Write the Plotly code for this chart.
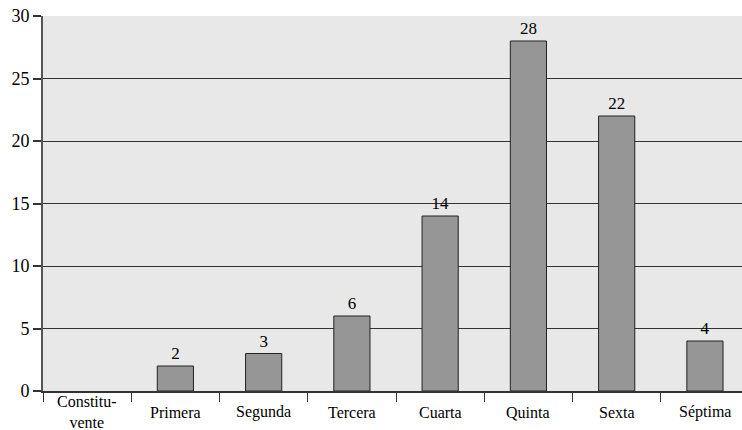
import plotly.graph_objects as go

categories = ["Constitu-<br>vente", "Primera", "Segunda", "Tercera", "Cuarta", "Quinta", "Sexta", "Séptima"]
values = [None, 2, 3, 6, 14, 28, 22, 4]
y_ticks = [0, 5, 10, 15, 20, 25, 30]

labels = [str(v) if v else "" for v in values]
SERIF = "Liberation Serif, Times New Roman, serif"

fig = go.Figure(go.Bar(
    x=categories, y=values, text=labels, textposition="outside",
    textfont=dict(family=SERIF, size=17, color="black"),
    marker=dict(color="#969696", line=dict(color="#222222", width=1)),
    width=0.41, cliponaxis=False,
))

for c in categories:
    fig.add_annotation(
        x=c, xref="x", y=-0.057, yref="paper", text=c, showarrow=False,
        xanchor="center", yanchor="middle",
        font=dict(family=SERIF, size=16, color="black"),
    )

fig.update_layout(
    width=742, height=430,
    margin=dict(l=43, r=0, t=16, b=39, autoexpand=False),
    paper_bgcolor="white", plot_bgcolor="#e8e8e8",
    font=dict(family=SERIF, size=16, color="black"),
    showlegend=False,
)
fig.update_xaxes(
    range=[-0.5, 7.42], tickson="boundaries", ticks="outside", ticklen=9,
    tickcolor="#333333", tickwidth=1, showline=True, linecolor="#333333",
    linewidth=1.5, showgrid=False, automargin=False, showticklabels=False,
)
fig.update_yaxes(
    range=[0, 30], tickvals=y_ticks, ticks="outside", ticklen=8,
    tickcolor="#333333", tickwidth=1.5, showline=True, linecolor="#555555",
    linewidth=2, showgrid=True, gridcolor="#333333", gridwidth=1,
    zeroline=False, automargin=False,
    tickfont=dict(family=SERIF, size=18, color="black"),
)

fig.write_html("out.html", config={"displayModeBar": False},
               post_script="document.body.style.margin='0';")
